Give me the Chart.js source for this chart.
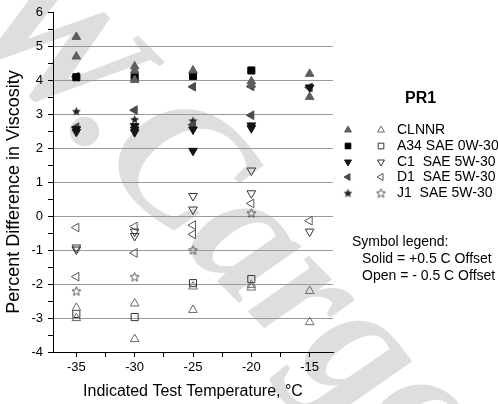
<!DOCTYPE html>
<html>
<head>
<meta charset="utf-8">
<script src="https://cdn.jsdelivr.net/npm/chart.js"></script>
<style>
  html, body { margin: 0; padding: 0; background: #fff; }
  #wrap { width: 498px; height: 404px; }
</style>
</head>
<body>
<div id="wrap"><canvas id="pr1" width="498" height="404"></canvas></div>
<script>
// PR1 viscosity differences, solid = +0.5 C offset, open = -0.5 C offset
const seriesNames = ['CLNNR', 'A34 SAE 0W-30', 'C1  SAE 5W-30', 'D1  SAE 5W-30', 'J1  SAE 5W-30'];
const xTicks = [-35, -32.5, -30, -27.5, -25, -22.5, -20, -17.5, -15];
const yTicks = [-4, -3.5, -3, -2.5, -2, -1.5, -1, -0.5, 0, 0.5, 1, 1.5, 2, 2.5, 3, 3.5, 4, 4.5, 5, 5.5, 6];

// solid symbols
const clnnrSolidX = [-35, -35, -30, -30, -30, -25, -20, -20, -15, -15];
const clnnrSolidY = [5.29, 4.71, 4.42, 4.3, 4.02, 4.3, 3.98, 3.88, 4.2, 3.52];
const a34SolidX = [-35, -30, -25, -20];
const a34SolidY = [4.1, 4.1, 4.14, 4.3];
const c1SolidX = [-35, -35, -30, -30, -30, -25, -25, -20, -20, -15];
const c1SolidY = [2.57, 2.49, 2.66, 2.56, 2.48, 2.56, 1.93, 2.68, 2.6, 3.8];
const d1SolidX = [-35, -35, -30, -25, -25, -20, -20, -15];
const d1SolidY = [4.12, 2.63, 3.13, 3.82, 2.7, 3.83, 2.98, 3.8];
const j1SolidX = [-35, -30, -25];
const j1SolidY = [3.1, 2.86, 2.82];

// open symbols
const clnnrOpenX = [-35, -35, -30, -30, -25, -25, -20, -20, -15, -15];
const clnnrOpenY = [-2.7, -3.0, -2.57, -3.62, -2.07, -2.76, -2.02, -2.1, -2.2, -3.12];
const a34OpenX = [-35, -30, -25, -20];
const a34OpenY = [-2.88, -2.97, -1.97, -1.85];
const c1OpenX = [-35, -35, -30, -30, -25, -25, -20, -20, -15];
const c1OpenY = [-0.92, -0.98, -0.45, -0.58, 0.6, 0.2, 1.35, 0.68, -0.45];
const d1OpenX = [-35, -35, -30, -30, -25, -25, -20, -15];
const d1OpenY = [-0.33, -1.78, -0.3, -1.08, -0.26, -0.53, 0.38, -0.13];
const j1OpenX = [-35, -30, -25, -20];
const j1OpenY = [-2.2, -1.78, -0.99, 0.1];

const FONT = '"Liberation Sans", Arial, sans-serif';

function pts(xs, ys) {
  return xs.map((x, i) => ({ x: x, y: ys[i] }));
}

// five point star drawn into a small canvas, used as a point style
function starImage(fill, stroke, size) {
  const c = document.createElement('canvas');
  c.width = size; c.height = size;
  const g = c.getContext('2d');
  const cx = size / 2, cy = size / 2 + 0.5, R = size / 2 - 0.8, r = R * 0.45;
  g.beginPath();
  for (let i = 0; i < 10; i++) {
    const a = -Math.PI / 2 + i * Math.PI / 5;
    const rad = i % 2 ? r : R;
    const px = cx + Math.cos(a) * rad, py = cy + Math.sin(a) * rad;
    i ? g.lineTo(px, py) : g.moveTo(px, py);
  }
  g.closePath();
  if (fill) { g.fillStyle = fill; g.fill(); }
  if (stroke) { g.strokeStyle = stroke; g.lineWidth = 0.9; g.stroke(); }
  return c;
}

const starSolid = starImage('#222', null, 11);
const starOpen = starImage(null, '#444', 11);

function solidSet(label, data, style, rot, color) {
  return {
    label: label, data: data, pointStyle: style, pointRotation: rot,
    pointRadius: 5, pointBackgroundColor: color, pointBorderColor: color, pointBorderWidth: 1
  };
}
function openSet(label, data, style, rot, color) {
  return {
    label: label, data: data, pointStyle: style, pointRotation: rot,
    pointRadius: 5, pointBackgroundColor: 'rgba(255,255,255,0)', pointBorderColor: color, pointBorderWidth: 1
  };
}

const datasets = [
  openSet(seriesNames[0], pts(clnnrOpenX, clnnrOpenY), 'triangle', 0, '#6a6a6a'),
  openSet(seriesNames[1], pts(a34OpenX, a34OpenY), 'rect', 0, '#333'),
  openSet(seriesNames[2], pts(c1OpenX, c1OpenY), 'triangle', 180, '#333'),
  openSet(seriesNames[3], pts(d1OpenX, d1OpenY), 'triangle', 270, '#555'),
  openSet(seriesNames[4], pts(j1OpenX, j1OpenY), starOpen, 0, '#444'),
  solidSet(seriesNames[0], pts(clnnrSolidX, clnnrSolidY), 'triangle', 0, '#5e5e5e'),
  solidSet(seriesNames[1], pts(a34SolidX, a34SolidY), 'rect', 0, '#000'),
  solidSet(seriesNames[2], pts(c1SolidX, c1SolidY), 'triangle', 180, '#151515'),
  solidSet(seriesNames[3], pts(d1SolidX, d1SolidY), 'triangle', 270, '#4a4a4a'),
  solidSet(seriesNames[4], pts(j1SolidX, j1SolidY), starSolid, 0, '#222')
];

// faint diagonal watermark behind everything
const watermark = {
  id: 'watermark',
  beforeDraw(chart) {
    const ctx = chart.ctx;
    ctx.save();
    ctx.translate(-39, 25);
    ctx.rotate(45 * Math.PI / 180);
    ctx.fillStyle = '#dedede';
    ctx.font = 'bold italic 180px "Liberation Serif", serif';
    ctx.textBaseline = 'alphabetic';
    ctx.fillText('W.Cargo', 0, 0);
    ctx.restore();
  }
};

// y title, two-column symbol key and the offset note on the right
const sideKey = {
  id: 'sideKey',
  afterDraw(chart) {
    const ctx = chart.ctx;
    const ds = chart.data.datasets;
    ctx.save();
    ctx.fillStyle = '#000';
    ctx.textBaseline = 'middle';

    ctx.save();
    ctx.translate(14, 192);
    ctx.rotate(-Math.PI / 2);
    ctx.textAlign = 'center';
    ctx.font = '18px ' + FONT;
    ctx.fillText('Percent Difference in Viscosity', 0, 0);
    ctx.restore();

    ctx.textAlign = 'left';
    ctx.font = 'bold 16px ' + FONT;
    ctx.fillText('PR1', 405, 99);
    ctx.font = '14px ' + FONT;
    const rowY = [130, 146, 162, 177, 193];
    for (let i = 0; i < seriesNames.length; i++) {
      const open = ds[i], solid = ds[i + 5];
      [[solid, 348], [open, 381]].forEach(([d, x]) => {
        ctx.fillStyle = d.pointBackgroundColor;
        ctx.strokeStyle = d.pointBorderColor;
        ctx.lineWidth = d.pointBorderWidth;
        Chart.helpers.drawPoint(ctx, {
          pointStyle: d.pointStyle, rotation: d.pointRotation,
          radius: 4, borderWidth: d.pointBorderWidth
        }, x, rowY[i]);
      });
      ctx.fillStyle = '#000';
      ctx.fillText(seriesNames[i], 397, rowY[i]);
    }
    ctx.fillText('Symbol legend:', 352, 242);
    ctx.fillText('Solid = +0.5 C Offset', 362, 259);
    ctx.fillText('Open = - 0.5 C Offset', 362, 276);
    ctx.restore();
  }
};

new Chart(document.getElementById('pr1'), {
  type: 'scatter',
  data: { datasets: datasets },
  plugins: [watermark, sideKey],
  options: {
    responsive: false,
    devicePixelRatio: 1,
    animation: false,
    events: [],
    layout: { padding: { left: 0, top: 12, right: 165, bottom: 0 } },
    plugins: { legend: { display: false }, tooltip: { enabled: false } },
    scales: {
      x: {
        type: 'linear', min: -37, max: -13,
        afterBuildTicks: (s) => { s.ticks = xTicks.map(v => ({ value: v })); },
        afterFit: (s) => { s.height = 52; },
        ticks: {
          autoSkip: false, maxRotation: 0, padding: 3, color: '#000',
          font: { family: FONT, size: 13 },
          callback: (v) => (v % 5 === 0 ? String(v) : '')
        },
        grid: { drawOnChartArea: false, tickLength: 5, tickColor: '#000' },
        border: { color: '#000', width: 1 },
        title: {
          display: true, text: 'Indicated Test Temperature, \u00B0C', color: '#000',
          font: { family: FONT, size: 16 }, padding: { top: 0, bottom: 3 }
        }
      },
      y: {
        type: 'linear', min: -4, max: 6,
        afterBuildTicks: (s) => { s.ticks = yTicks.map(v => ({ value: v })); },
        afterFit: (s) => { s.width = 53; },
        ticks: {
          autoSkip: false, padding: 5, color: '#000',
          font: { family: FONT, size: 13 },
          callback: (v) => (Number.isInteger(v) ? String(v) : '')
        },
        grid: {
          tickLength: 5, tickColor: '#000', lineWidth: 1,
          color: (c) => {
            const v = c.tick && c.tick.value;
            return Number.isInteger(v) && v > -4 && v < 6 ? '#9a9a9a' : 'rgba(0,0,0,0)';
          }
        },
        border: { color: '#000', width: 1 },
        title: { display: false }
      }
    }
  }
});
</script>
</body>
</html>
